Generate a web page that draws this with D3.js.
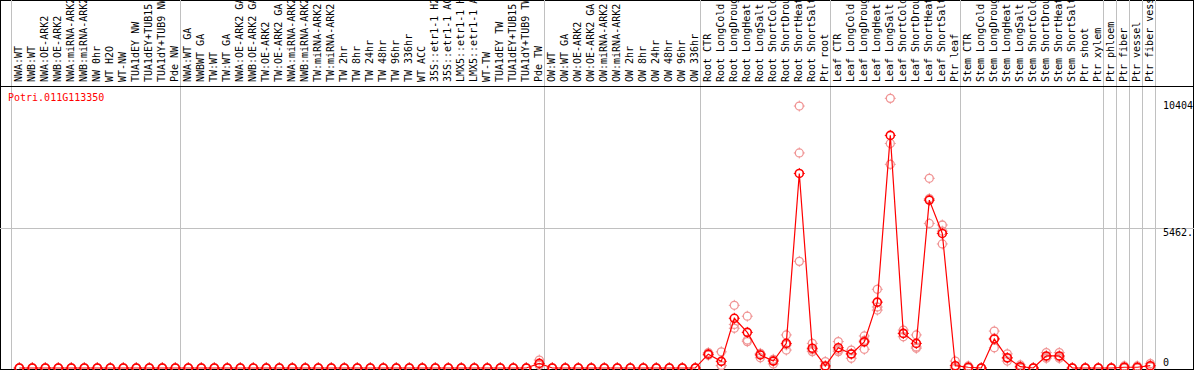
<!DOCTYPE html>
<html><head><meta charset="utf-8">
<script src="https://cdn.jsdelivr.net/npm/d3@7"></script>
<style>
html,body{margin:0;padding:0;background:#fff;}
svg{display:block;}
text{font-family:"DejaVu Sans Mono",monospace;font-size:10px;}
</style></head>
<body>
<script>
const geneName = "Potri.011G113350";
const categories = [
"NWA:WT","NWB:WT","NWA:OE-ARK2","NWB:OE-ARK2","NWA:miRNA-ARK2","NWB:miRNA-ARK2","NW 0hr","WT H2O","WT-NW","TUA1dEY NW","TUA1dEY+TUB15","TUA1dY+TUB9 NW","Pde NW",
"NWA:WT GA","NWBWT GA","TW:WT","TW:WT GA","NWA:OE-ARK2 GA","NWB:OE-ARK2 GA","TW:OE-ARK2","TW:OE-ARK2 GA","NWA:miRNA-ARK2 ","NWB:miRNA-ARK2 ","TW:miRNA-ARK2","TW:miRNA-ARK2 ",
"TW 2hr","TW 8hr","TW 24hr","TW 48hr","TW 96hr","TW 336hr","WT ACC","35S::etr1-1 H2O","35S::etr1-1 ACC","LMX5::etr1-1 H2O","LMX5::etr1-1 ACC","WT-TW","TUA1dEY TW","TUA1dEY+TUB15 ","TUA1dY+TUB9 TW","Pde TW",
"OW:WT","OW:WT GA","OW:OE-ARK2","OW:OE-ARK2 GA","OW:miRNA-ARK2","OW:miRNA-ARK2 ","OW 2hr","OW 8hr","OW 24hr","OW 48hr","OW 96hr","OW 336hr",
"Root CTR","Root LongCold","Root LongDrought","Root LongHeat","Root LongSalt","Root ShortCold","Root ShortDrought","Root ShortHeat","Root ShortSalt","Ptr root",
"Leaf CTR","Leaf LongCold","Leaf LongDrought","Leaf LongHeat","Leaf LongSalt","Leaf ShortCold","Leaf ShortDrought","Leaf ShortHeat","Leaf ShortSalt","Ptr leaf",
"Stem CTR","Stem LongCold","Stem LongDrought","Stem LongHeat","Stem LongSalt","Stem ShortCold","Stem ShortDrought","Stem ShortHeat","Stem ShortSalt","Ptr shoot",
"Ptr xylem","Ptr phloem","Ptr fiber","Ptr vessel","Ptr fiber vessel"];

// mean expression values
const meanValues = [
0,0,0,0,0,0,0,0,0,0,0,0,0,
0,0,0,0,0,0,0,0,0,0,0,0,
0,0,0,0,0,0,0,0,0,0,0,0,0,0,0,180,
0,0,0,0,0,0,0,0,0,0,0,0,
540,260,1940,1390,510,270,960,7590,770,80,
790,546,1020,2570,9075,1350,960,6550,5250,90,
30,0,1130,400,50,0,470,470,0,0,
0,0,30,30,90];
const rep1Values = [
0,0,0,0,0,0,0,0,0,0,0,0,0,
0,0,0,0,0,0,0,0,0,0,0,0,
0,0,0,0,0,0,0,0,0,0,0,0,0,0,0,310,
0,0,0,0,0,0,0,0,0,0,0,0,
600,630,2445,2020,570,340,1290,10220,960,250,
1030,700,1250,3070,10520,1480,1290,7400,5580,270,
80,0,1440,550,120,0,600,600,0,0,
0,0,80,80,170];
const rep2Values = [
0,0,0,0,0,0,0,0,0,0,0,0,0,
0,0,0,0,0,0,0,0,0,0,0,0,
0,0,0,0,0,0,0,0,0,0,0,0,0,0,0,120,
0,0,0,0,0,0,0,0,0,0,0,0,
500,90,1550,1030,400,160,700,8390,640,0,
640,380,730,2260,8760,1220,770,5640,4840,0,
0,0,790,270,30,0,380,380,0,0,
0,0,0,0,60];
const rep3Values = [
0,0,0,0,0,0,0,0,0,0,0,0,0,
0,0,0,0,0,0,0,0,0,0,0,0,
0,0,0,0,0,0,0,0,0,0,0,0,0,0,0,110,
0,0,0,0,0,0,0,0,0,0,0,0,
520,100,1700,1090,550,300,900,4160,710,0,
700,560,1080,2380,7945,1350,820,6610,5340,0,
0,0,1160,380,0,0,430,430,0,0,
0,0,10,10,40];
const groupEnds = ["Pde NW","Pde TW","OW 336hr","Ptr root","Ptr leaf","Ptr xylem","Ptr phloem","Ptr fiber","Ptr vessel","Ptr fiber vessel"];
const yTickValues = [0, 5462, 10404];
const yTickLabels = ["0", "5462.", "10404"];
const yMax = 10924;

const W = 1194, H = 370;
const svg = d3.select("body").append("svg").attr("width", W).attr("height", H);

const x = d3.scaleBand().domain(categories).range([12.8, 12.8 + 13 * categories.length]);
const xc = c => x(c) + x.bandwidth() / 2;
const y = d3.scaleLinear().domain([0, yMax]).range([368, 88]);

// frame
svg.append("rect").attr("x", 0.5).attr("y", 0.5).attr("width", W - 1).attr("height", H).attr("fill", "none").attr("stroke", "#000");

// vertical group lines
const vlines = [xc(categories[0]) - 8.5].concat(groupEnds.map(c => xc(c) + 5));
svg.selectAll("line.vg").data(vlines).enter().append("line")
  .attr("x1", d => Math.round(d) + 0.5).attr("x2", d => Math.round(d) + 0.5)
  .attr("y1", 0).attr("y2", H).attr("stroke", "#c0c0c0").attr("stroke-width", 1);

// horizontal mid grid
svg.append("line").attr("x1", 0).attr("x2", W)
  .attr("y1", Math.round(y(5462)) + 0.5).attr("y2", Math.round(y(5462)) + 0.5)
  .attr("stroke", "#c0c0c0");

// separator under labels
svg.append("line").attr("x1", 0).attr("x2", W).attr("y1", 86.5).attr("y2", 86.5).attr("stroke", "#000");
// bottom axis
svg.append("line").attr("x1", 0).attr("x2", W).attr("y1", 369.5).attr("y2", 369.5).attr("stroke", "#000");

// category labels
svg.selectAll("text.cat").data(categories).enter().append("text")
  .attr("transform", d => `translate(${xc(d) + 2.8},82) rotate(-90)`)
  .attr("fill", "#000").text(d => d.trim());

// right tick labels
svg.selectAll("text.yt").data(yTickValues).enter().append("text")
  .attr("x", 1163).attr("y", (d, i) => i === 0 ? y(d) - 2 : y(d) + 8)
  .attr("fill", "#000").text((d, i) => yTickLabels[i]);

// gene name
svg.append("text").attr("x", 8).attr("y", 101).attr("fill", "#ff0000").text(geneName);

function marker(g, cx, cy, color, sw) {
  g.append("circle").attr("cx", cx).attr("cy", cy).attr("r", 4).attr("fill", "none").attr("stroke", color).attr("stroke-width", sw);
  [[0, -1], [0, 1], [-1, 0], [1, 0]].forEach(([dx, dy]) => {
    g.append("line").attr("x1", cx + dx * 3.5).attr("y1", cy + dy * 3.5)
      .attr("x2", cx + dx * 5.5).attr("y2", cy + dy * 5.5).attr("stroke", color).attr("stroke-width", 1);
  });
}

// replicates
const repG = svg.append("g");
[rep1Values, rep2Values, rep3Values].forEach(arr => {
  arr.forEach((v, i) => marker(repG, xc(categories[i]), y(v), "#f09595", 1.3));
});

// mean line
const line = d3.line().x((d, i) => xc(categories[i])).y(d => y(d));
svg.append("path").datum(meanValues).attr("d", line).attr("fill", "none").attr("stroke", "#ff0000").attr("stroke-width", 1.2);

// mean markers
const meanG = svg.append("g");
meanValues.forEach((v, i) => marker(meanG, xc(categories[i]), y(v), "#ff0000", 1.6));
</script>
</body></html>
